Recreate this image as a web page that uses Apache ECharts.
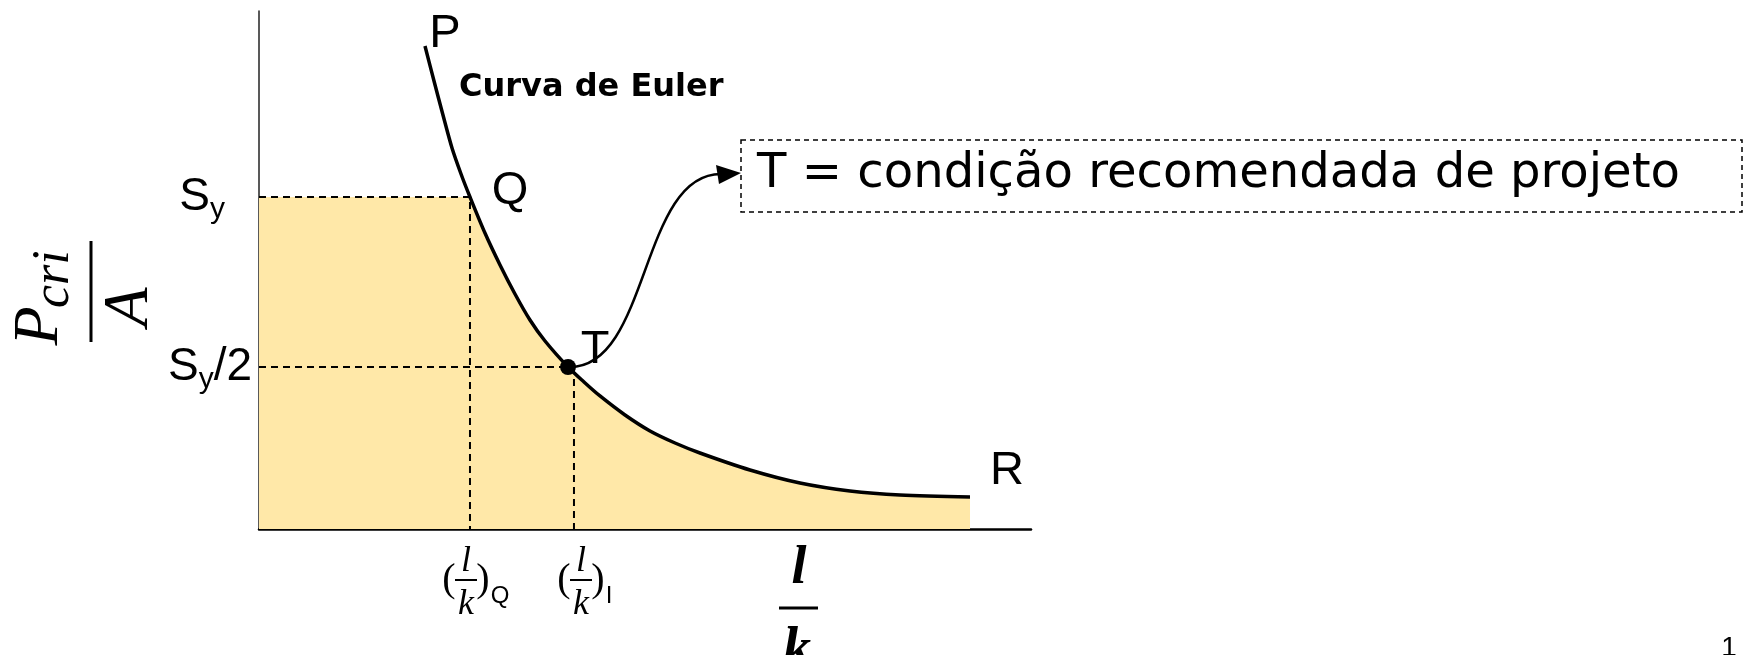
<!DOCTYPE html>
<html>
<head>
<meta charset="utf-8">
<script src="https://cdn.jsdelivr.net/npm/echarts@6/dist/echarts.min.js"></script>
<style>
    html, body { margin: 0; padding: 0; background: #fff; }
    #chart { width: 1745px; height: 655px; }
</style>
</head>
<body>
<div id="chart"></div>
<script>
    // pontos da curva de Euler (eixos sem escala, 0..100)
    var curveX = [21.50, 22.67, 23.83, 25.00, 26.17, 27.33, 29.27, 31.22, 33.16, 35.10, 37.05, 40.03,
                  42.10, 44.17, 47.41, 50.65, 53.89, 57.12, 63.60, 70.08, 76.55, 83.03, 92.10];
    var curveY = [93.24, 86.49, 79.92, 73.55, 68.53, 64.09, 57.14, 50.97, 45.37, 40.35, 36.29, 31.27,
                  28.38, 25.68, 22.01, 18.92, 16.60, 14.67, 11.39, 8.88, 7.34, 6.56, 6.18];
    var sy = 64.09, syHalf = 31.27;
    var xQ = 27.33, xT = 40.8;
    var tPoint = [40.03, 31.27];
    var qIndex = 5;

    // rótulos dos eixos
    var yTicks = [sy, syHalf];
    var yTickTail = ['', '/2'];
    var xTicks = [xQ, xT];
    var xTickSub = ['Q', 'I'];
    var pointNames = ['P', 'Q', 'T', 'R'];
    var boxText = 'T = condição recomendada de projeto';

    var curve = curveX.map(function (x, i) { return [x, curveY[i]]; });
    var areaFlat = [[0, sy], [xQ, sy]];
    var areaCurve = curve.slice(qIndex);
    var guideQ = [[0, sy], [xQ, sy], [xQ, 0]];
    var guideTh = [[0, syHalf], tPoint];
    var guideTv = [[xT, syHalf], [xT, 0]];
    var marks = [curve[0], curve[qIndex], tPoint, curve[curve.length - 1]];
    // deslocamento (px) de cada letra em relação ao seu ponto
    var markOffset = [[20, -12], [40, -6], [27, -17], [37, -26]];

    var yellow = '#FFE8A8';
    var sans = 'Liberation Sans';
    var serif = 'Liberation Serif';

    // largura do texto da caixa para caber no retângulo tracejado
    var ctx = document.createElement('canvas').getContext('2d');
    ctx.font = '48px "DejaVu Sans"';
    var boxScale = 923 / ctx.measureText(boxText).width;

    var dashed = { color: '#000', width: 2, type: [7, 5] };

    var myChart = echarts.init(document.getElementById('chart'));
    myChart.setOption({
        animation: false,
        grid: { left: 259, right: 714, top: 11, bottom: 126 },
        xAxis: {
            type: 'value', min: 0, max: 100,
            splitLine: { show: false },
            axisTick: { show: false },
            axisLine: { lineStyle: { color: '#000', width: 2.5 } },
            axisLabel: {
                customValues: xTicks,
                margin: 24,
                formatter: function (v) {
                    var i = xTicks.findIndex(function (t) { return Math.abs(t - v) < 1e-6; });
                    var k = i === 0 ? 'Q' : 'I';
                    var pad = '{pad' + k + '| }';
                    return pad + '{par1| }{num|l}{par1| }{ss' + k + '| }\n' +
                        pad + '{par|(}{bar| }{par|)}{ss' + k + '| }\n' +
                        pad + '{par3| }{den|k}{par3| }{sub' + k + '|' + xTickSub[i] + '}';
                },
                rich: {
                    padQ: { width: 14, lineHeight: 18 },
                    padI: { width: 24, lineHeight: 18 },
                    ssQ: { width: 22, lineHeight: 14 },
                    ssI: { width: 10, lineHeight: 14 },
                    par1: { width: 12, lineHeight: 18 },
                    par3: { width: 12, lineHeight: 32 },
                    num: { width: 22, align: 'center', fontFamily: serif, fontStyle: 'italic', fontSize: 36, lineHeight: 18, color: '#000' },
                    den: { width: 22, align: 'center', fontFamily: serif, fontStyle: 'italic', fontSize: 36, lineHeight: 32, color: '#000' },
                    par: { width: 12, align: 'center', fontFamily: serif, fontSize: 40, lineHeight: 14, color: '#000' },
                    bar: { width: 22, height: 2, lineHeight: 14, backgroundColor: '#000' },
                    subQ: { width: 22, align: 'left', fontFamily: sans, fontSize: 24, lineHeight: 14, padding: [0, 0, 18, 0], color: '#000' },
                    subI: { width: 10, align: 'left', fontFamily: sans, fontSize: 24, lineHeight: 14, padding: [0, 0, 18, 0], color: '#000' }
                }
            }
        },
        yAxis: {
            type: 'value', min: 0, max: 100,
            splitLine: { show: false },
            axisTick: { show: false },
            axisLine: { show: true, lineStyle: { color: '#222', width: 1.5 } },
            axisLabel: {
                customValues: yTicks,
                margin: 7,
                formatter: function (v) {
                    var i = yTicks.findIndex(function (t) { return Math.abs(t - v) < 1e-6; });
                    return '{S|S}{y|y}' + (yTickTail[i] ? '{S|' + yTickTail[i] + '}' : '{gap| }');
                },
                rich: {
                    S: { fontFamily: sans, fontSize: 46, lineHeight: 46, color: '#000' },
                    y: { fontFamily: sans, fontSize: 30, lineHeight: 20, padding: [26, 0, 0, 0], color: '#000' },
                    gap: { width: 27 }
                }
            }
        },
        series: [
            {
                type: 'line', data: areaFlat, symbol: 'none',
                lineStyle: { width: 0 }, areaStyle: { color: yellow, opacity: 1 }
            },
            {
                type: 'line', data: areaCurve, symbol: 'none', smooth: 0.3,
                lineStyle: { width: 0 }, areaStyle: { color: yellow, opacity: 1 }
            },
            { type: 'line', data: guideQ, symbol: 'none', lineStyle: dashed },
            { type: 'line', data: guideTh, symbol: 'none', lineStyle: dashed },
            { type: 'line', data: guideTv, symbol: 'none', lineStyle: dashed },
            {
                type: 'line', data: curve, symbol: 'none', smooth: 0.3,
                lineStyle: { color: '#000', width: 3.5 }
            },
            {
                type: 'scatter',
                data: marks.map(function (p, i) {
                    return {
                        value: p,
                        symbolSize: pointNames[i] === 'T' ? 16 : 0,
                        label: { show: true, formatter: pointNames[i], position: 'inside', offset: markOffset[i] }
                    };
                }),
                itemStyle: { color: '#000', opacity: 1 },
                label: { fontFamily: sans, fontSize: 47, color: '#000' },
                z: 5
            }
        ],
        graphic: [
            // título do eixo y: Pcri / A (girado)
            {
                type: 'group', x: 91, y: 292, rotation: Math.PI / 2,
                children: [
                    { type: 'line', shape: { x1: -50, y1: 0, x2: 51, y2: 0 }, style: { stroke: '#000', lineWidth: 3 } },
                    { type: 'text', x: -34, y: -51, style: { text: 'P', font: 'italic 64px "Liberation Serif"', fill: '#000', align: 'center', verticalAlign: 'middle' } },
                    { type: 'text', x: -16, y: -37, style: { text: 'cri', font: 'italic 52px "Liberation Serif"', fill: '#000', align: 'left', verticalAlign: 'middle' } },
                    { type: 'text', x: -15, y: 39, style: { text: 'A', font: 'italic 64px "Liberation Serif"', fill: '#000', align: 'center', verticalAlign: 'middle' } }
                ]
            },
            // título do eixo x: l / k
            {
                type: 'group', x: 801, y: 608,
                children: [
                    { type: 'line', shape: { x1: -22, y1: 0, x2: 17, y2: 0 }, style: { stroke: '#000', lineWidth: 3 } },
                    { type: 'text', x: -2, y: -39, style: { text: 'l', font: 'italic bold 54px "Liberation Serif"', fill: '#000', align: 'center', verticalAlign: 'middle' } },
                    { type: 'text', x: -4, y: 44, style: { text: 'k', font: 'italic bold 56px "Liberation Serif"', fill: '#000', align: 'center', verticalAlign: 'middle' } }
                ]
            },
            {
                type: 'text', x: 459, y: 88,
                style: { text: 'Curva de Euler', font: 'bold 32px "DejaVu Sans"', fill: '#000', align: 'left', verticalAlign: 'middle' }
            },
            // seta de T até a caixa
            {
                type: 'bezierCurve',
                shape: { x1: 570, y1: 367, cpx1: 650, cpy1: 367, cpx2: 640, cpy2: 172, x2: 722, y2: 174 },
                style: { stroke: '#000', lineWidth: 2.5, fill: null }
            },
            {
                type: 'polygon',
                shape: { points: [[741, 173], [716, 165], [719, 184]] },
                style: { fill: '#000' }
            },
            {
                type: 'rect',
                shape: { x: 741, y: 140, width: 1001, height: 72 },
                style: { fill: null, stroke: '#000', lineWidth: 1.5, lineDash: [5, 4] }
            },
            {
                type: 'text', x: 757, y: 175, scaleX: boxScale,
                style: { text: boxText, font: '48px "DejaVu Sans"', fill: '#000', align: 'left', verticalAlign: 'middle' }
            },
            {
                type: 'text', x: 1729, y: 648,
                style: { text: '1', font: '28px "Liberation Sans"', fill: '#000', align: 'center', verticalAlign: 'middle' }
            }
        ]
    });
</script>
</body>
</html>
